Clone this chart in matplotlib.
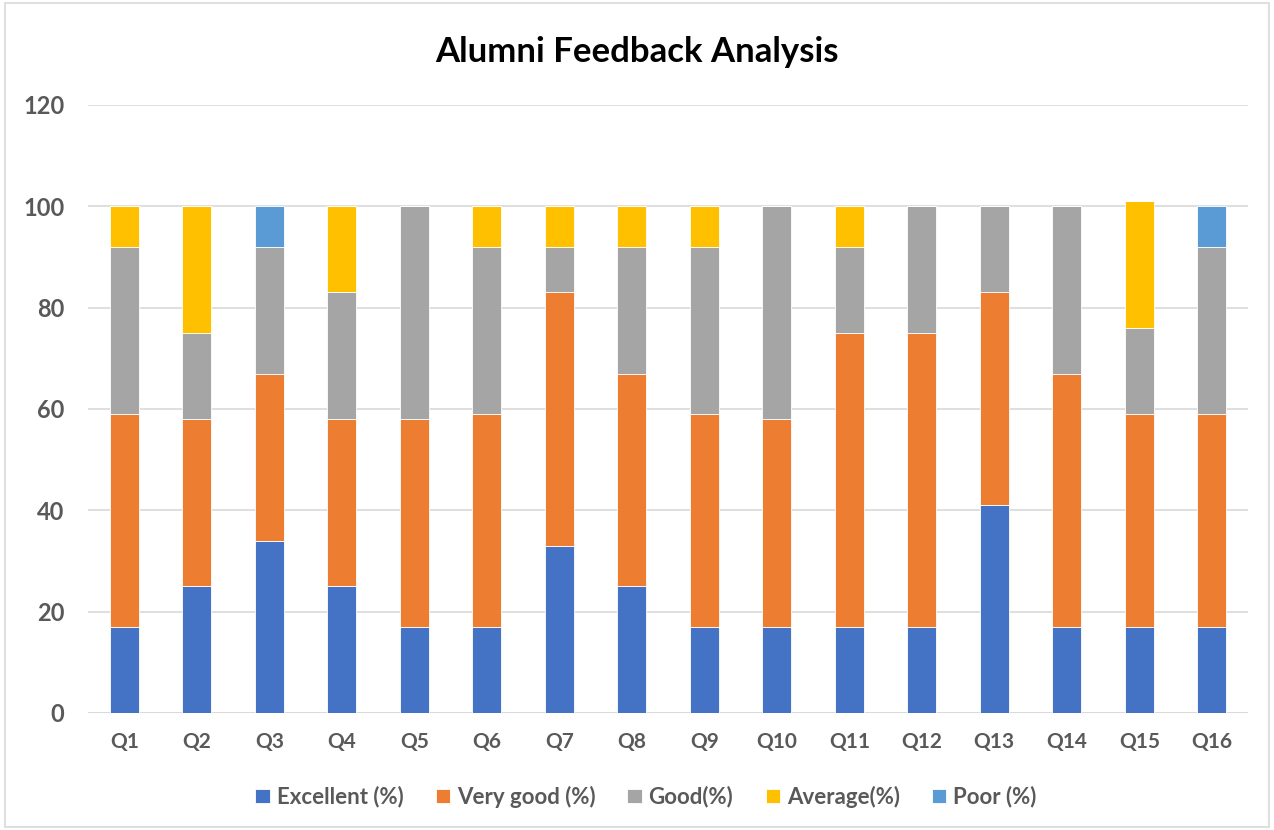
import numpy as np
import matplotlib.pyplot as plt
from matplotlib.patches import Rectangle

plt.rcParams['font.family'] = ['Lato', 'DejaVu Sans']
plt.rcParams['font.weight'] = 'bold'

# --- data ---
questions = ['Q%d' % i for i in range(1, 17)]
excellent = [17, 25, 34, 25, 17, 17, 33, 25, 17, 17, 17, 17, 41, 17, 17, 17]
very_good = [42, 33, 33, 33, 41, 42, 50, 42, 42, 41, 58, 58, 42, 50, 42, 42]
good      = [33, 17, 25, 25, 42, 33, 9, 25, 33, 42, 17, 25, 17, 33, 17, 33]
average   = [8, 25, 0, 17, 0, 8, 8, 8, 8, 0, 8, 0, 0, 0, 25, 0]
poor      = [0, 0, 8, 0, 0, 0, 0, 0, 0, 0, 0, 0, 0, 0, 0, 8]

series = [
    ('Excellent (%)', excellent, '#4472C4'),
    ('Very good (%)', very_good, '#ED7D31'),
    ('Good(%)', good, '#A5A5A5'),
    ('Average(%)', average, '#FFC000'),
    ('Poor (%)', poor, '#5B9BD5'),
]

text_col = '#595959'

fig = plt.figure(figsize=(12.74, 8.30), dpi=100)
ax = fig.add_axes([0.0691, 0.141, 0.9105, 0.7325])

x = np.arange(len(questions))
bottom = np.zeros(len(questions))
for label, vals, col in series:
    vals = np.array(vals, dtype=float)
    ax.bar(x, vals, width=0.4, bottom=bottom, color=col, label=label,
           edgecolor='white', linewidth=0.6, zorder=3)
    bottom += vals

ax.set_xlim(-0.5, len(questions) - 0.5)
ax.set_ylim(0, 120)
ax.set_yticks(range(0, 121, 20))
ax.set_xticks(x)
ax.set_xticklabels(questions)
ax.grid(axis='y', color='#D9D9D9', linewidth=1.2, zorder=0)
for s in ['top', 'right', 'left', 'bottom']:
    ax.spines[s].set_visible(False)
ax.axhline(0, color='#D9D9D9', linewidth=1.2, zorder=2)
ax.tick_params(axis='both', length=0, labelcolor=text_col)
ax.tick_params(axis='x', labelsize=15, pad=14)
ax.tick_params(axis='y', labelsize=17, pad=17)

fig.text(0.5, 0.937, 'Alumni Feedback Analysis', ha='center', va='center',
         fontsize=25, fontweight='bold', color='black')

leg = fig.legend(loc='center', bbox_to_anchor=(0.507, 0.04), ncol=5,
                 frameon=False, fontsize=16, handlelength=0.65, handleheight=0.65,
                 handletextpad=0.3, columnspacing=1.45)
for t in leg.get_texts():
    t.set_color(text_col)

# chart border
fig.patches.append(Rectangle((0.004, 0.004), 0.992, 0.992, transform=fig.transFigure,
                             fill=False, edgecolor='#D9D9D9', linewidth=1.2))

fig.savefig('out.png', dpi=100)
